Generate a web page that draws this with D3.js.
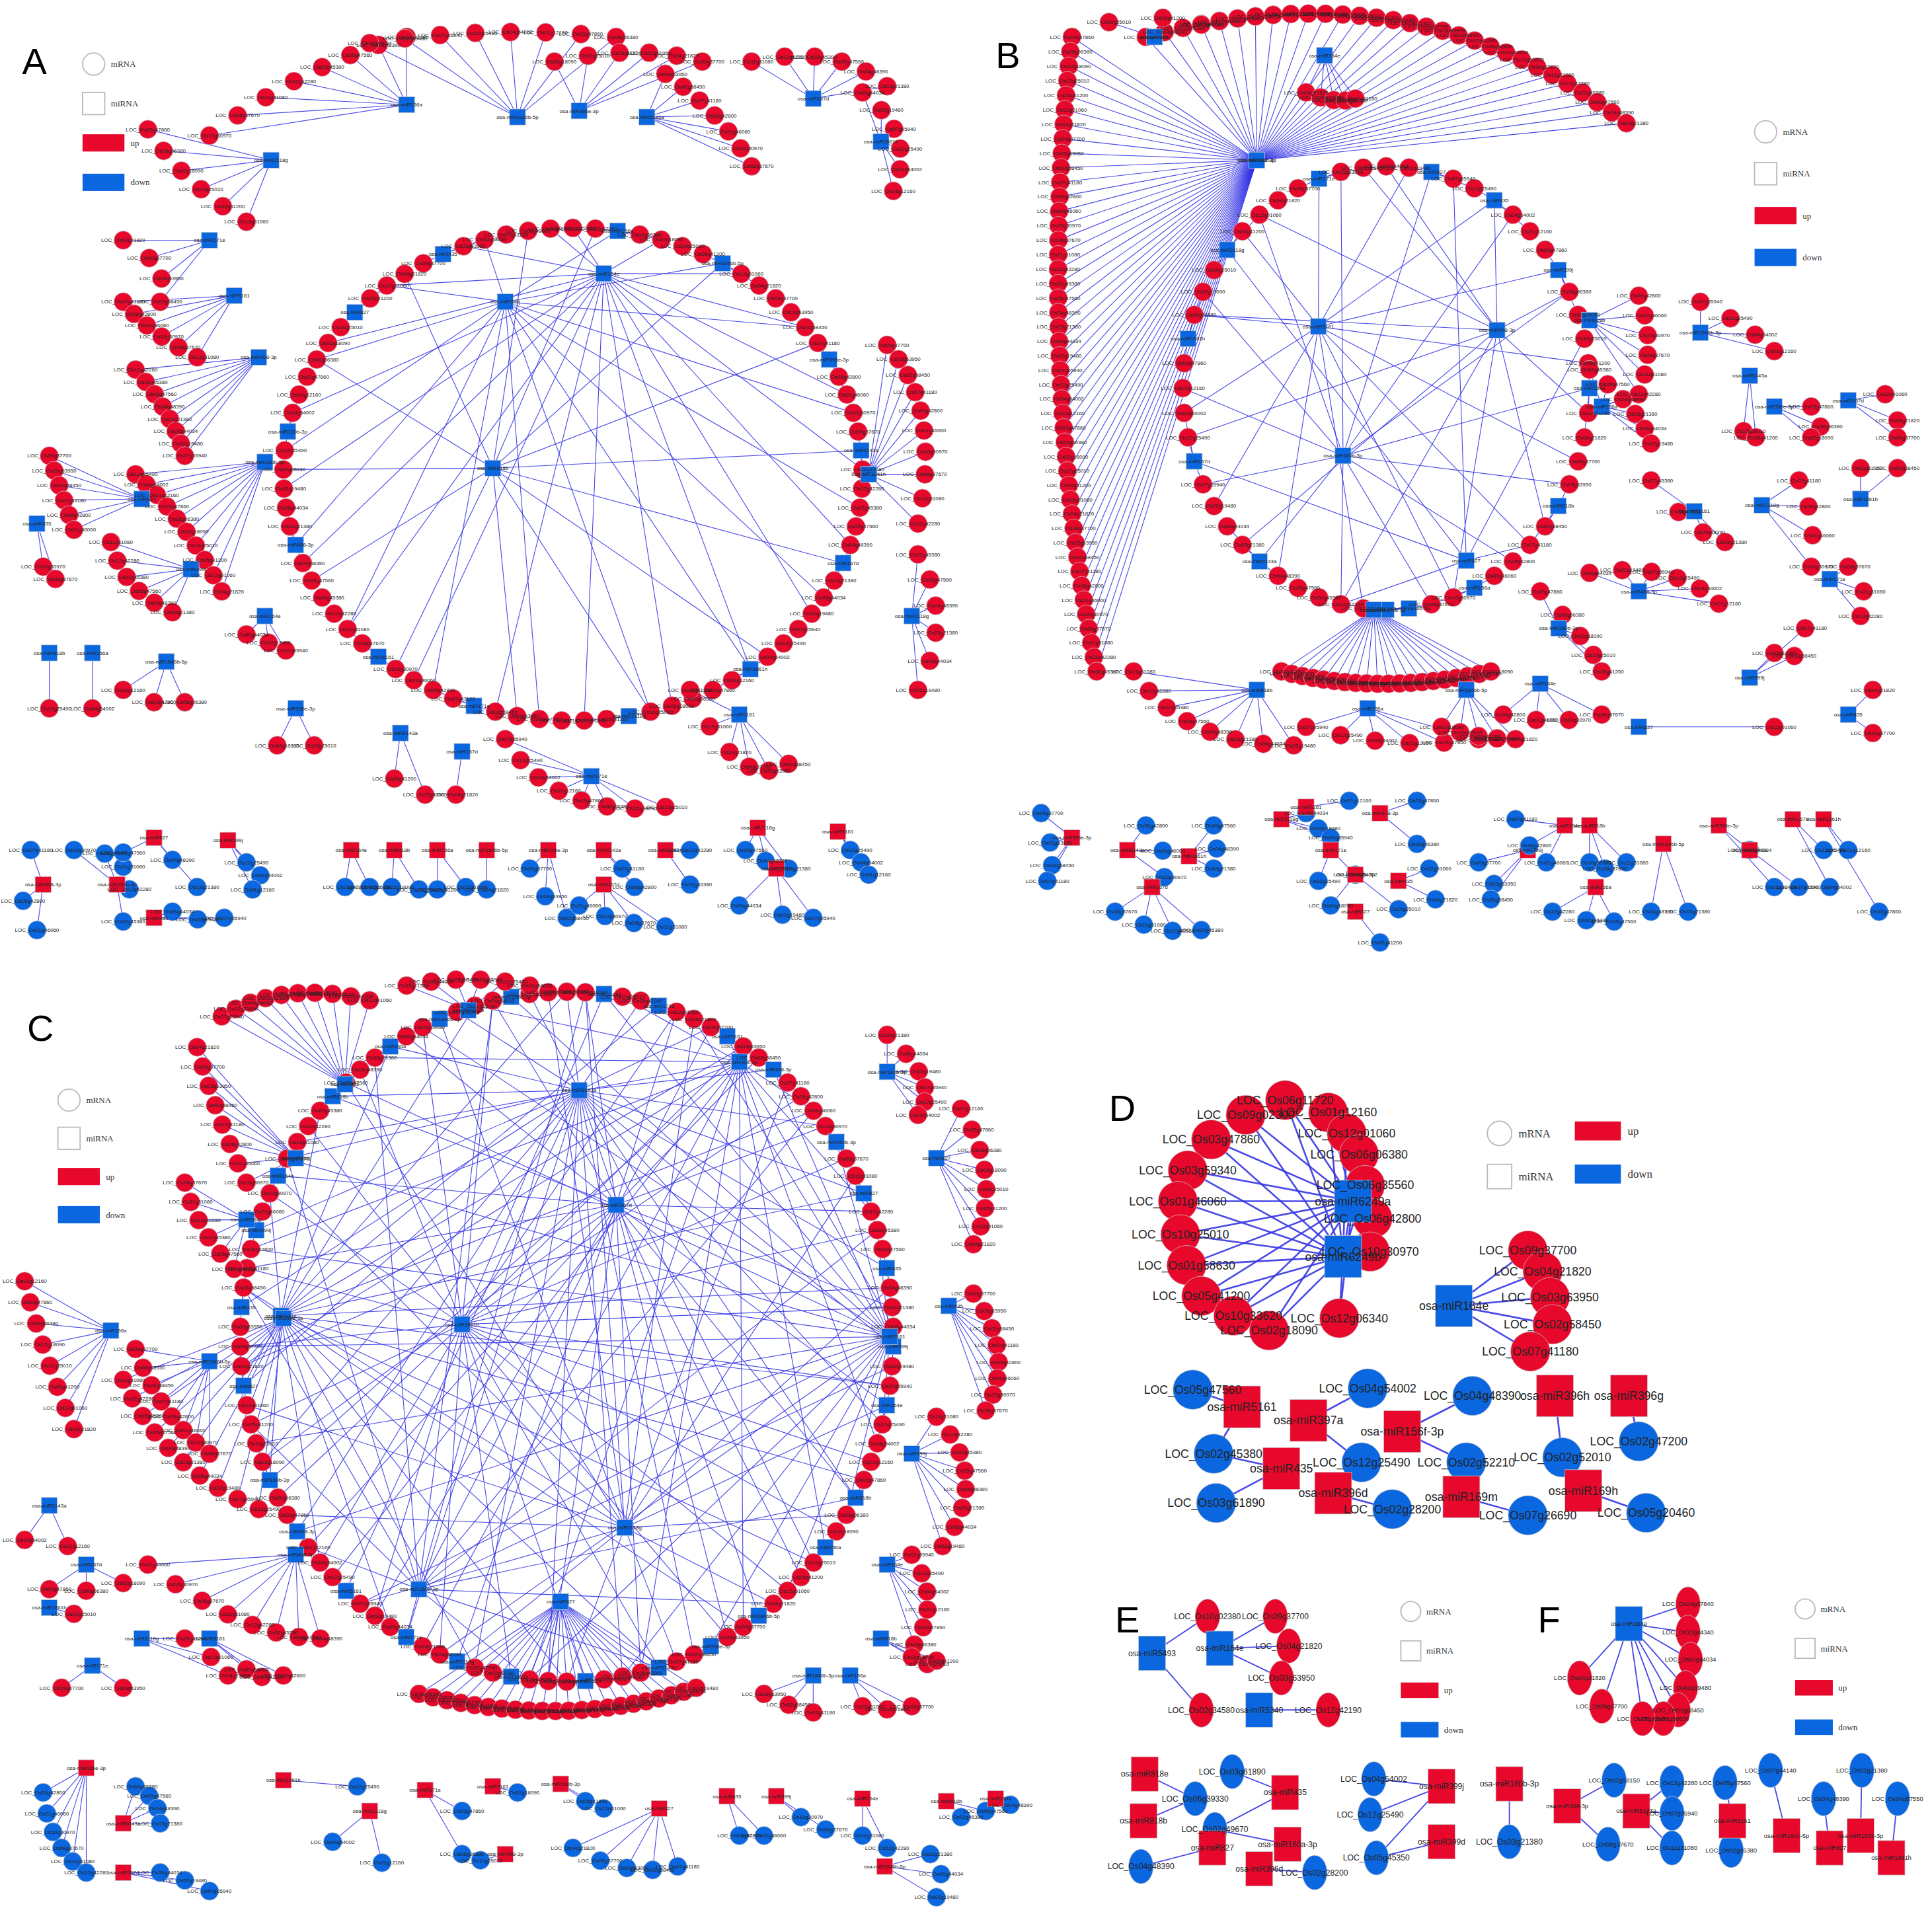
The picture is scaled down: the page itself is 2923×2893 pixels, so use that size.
<!DOCTYPE html>
<html><head><meta charset="utf-8">
<script src="https://cdn.jsdelivr.net/npm/d3@7"></script>
<style>body{margin:0;background:#fff}svg{display:block}</style>
</head><body>
<script>
// ---------- data ----------
const locIds = ["LOC_Os01g12160","LOC_Os03g47860","LOC_Os06g06380","LOC_Os02g18090","LOC_Os10g25010","LOC_Os05g41200",
 "LOC_Os12g01060","LOC_Os04g21820","LOC_Os09g37700","LOC_Os03g63950","LOC_Os02g58450","LOC_Os07g41180","LOC_Os06g42800",
 "LOC_Os01g46060","LOC_Os10g30970","LOC_Os08g37670","LOC_Os11g31080","LOC_Os12g42280","LOC_Os02g45380","LOC_Os05g47560",
 "LOC_Os04g48390","LOC_Os03g21380","LOC_Os06g44034","LOC_Os02g19480","LOC_Os07g05940","LOC_Os12g25490","LOC_Os04g54002"];
const mirIds = ["osa-miR156a","osa-miR1846b-5p","osa-miR396e-3p","osa-miR5143a","osa-miR167d","osa-miR1861h","osa-miR2118g",
 "osa-miR171e","osa-miR5161","osa-miR408-3p","osa-miR160b-3p","osa-miR827","osa-miR435","osa-miR399j","osa-miR164e","osa-miR818b"];

// Panel D
const dHubs = ["osa-miR6249a","osa-miR6249b"];
const dRing = ["LOC_Os06g11720","LOC_Os01g12160","LOC_Os09g02300","LOC_Os12g01060","LOC_Os03g47860","LOC_Os06g06380","LOC_Os03g59340",
 "LOC_Os06g35560","LOC_Os01g46060","LOC_Os06g42800","LOC_Os10g25010","LOC_Os10g30970","LOC_Os01g58630","LOC_Os05g41200",
 "LOC_Os10g33620","LOC_Os02g18090","LOC_Os12g06340"];
const dRingPos = [[1043,893],[1078,903],[1011,905],[1093,920],[983,925],[1103,937],[964,950],[1108,962],[956,975],[1114,989],
 [958,1002],[1112,1016],[963,1027],[975,1052],[1001,1068],[1030,1080],[1087,1070]];
const d164 = {hub:"osa-miR164e", targets:["LOC_Os09g37700","LOC_Os04g21820","LOC_Os03g63950","LOC_Os02g58450","LOC_Os07g41180"]};
const dPairs = [["osa-miR5161",["LOC_Os05g47560","LOC_Os02g45380"]],["osa-miR397a",["LOC_Os04g54002","LOC_Os12g25490"]],
 ["osa-miR156f-3p",["LOC_Os04g48390","LOC_Os02g52210"]],["osa-miR396h",["LOC_Os02g52010"]],["osa-miR396g",["LOC_Os02g47200"]],
 ["osa-miR435",["LOC_Os02g45380b","LOC_Os03g61890"]],["osa-miR396d",["LOC_Os02g28200"]],["osa-miR169m",["LOC_Os07g26690"]],["osa-miR169h",["LOC_Os05g20460"]]];
// Panel E
const eUp = [["osa-miR5493",["LOC_Os10g02380","LOC_Os02g34580"]],["osa-miR164e",["LOC_Os09g37700","LOC_Os04g21820","LOC_Os03g63950"]],["osa-miR5340",["LOC_Os12g42190"]]];
const eDown = [["osa-miR818e",["LOC_Os06g39330"]],["osa-miR818b",["LOC_Os06g39330"]],["osa-miR435",["LOC_Os03g61890","LOC_Os02g49670"]],
 ["osa-miR160a-3p",["LOC_Os02g49670"]],["osa-miR827",["LOC_Os04g48390"]],["osa-miR396d",["LOC_Os02g28200"]],
 ["osa-miR399j",["LOC_Os04g54002","LOC_Os12g25490","LOC_Os05g45350"]],["osa-miR399d",["LOC_Os05g45350"]],["osa-miR160b-3p",["LOC_Os03g21380"]]];
// Panel F
const fUp = {hub:"osa-miR164e", targets:["LOC_Os04g37840","LOC_Os12g44340","LOC_Os06g44034","LOC_Os02g19480","LOC_Os02g58450","LOC_Os03g58600","LOC_Os07g41180","LOC_Os09g37700","LOC_Os04g21820"]};
const fDown = [["osa-miR408-3p",["LOC_Os02g58150","LOC_Os08g37670"]],["osa-miR5143a",["LOC_Os12g42280","LOC_Os07g05940","LOC_Os11g31080"]],
 ["osa-miR5161",["LOC_Os05g47560","LOC_Os02g45380"]],["osa-miR164c-5p",["LOC_Os07g44140"]],["osa-miR827",["LOC_Os04g48390"]],
 ["osa-miR160b-3p",["LOC_Os03g21380"]],["osa-miR1861h",["LOC_Os04g57550"]]];
const legendLabels = ["mRNA","miRNA","up","down"];

// ---------- layout (displayed units) ----------
const RED="#e8082c", BLUE="#0b67e0", EDGE="#3535e6";
const W=2923,H=2893;
const sx=d3.scaleLinear().domain([0,1568]).range([0,W]);
const sy=d3.scaleLinear().domain([0,1552]).range([0,H]);
const svg=d3.select("body").append("svg").attr("width",W).attr("height",H);
const root=svg.append("g").attr("transform",`scale(${sx(1)},${sy(1)})`);
const gE=root.append("g"), gN=root.append("g"), gT=root.append("g");

function q(p0,pc,p1,t){const u=1-t;return [u*u*p0[0]+2*u*t*pc[0]+t*t*p1[0],u*u*p0[1]+2*u*t*pc[1]+t*t*p1[1]];}
let lc=0,mc=0;
function node(x,y,shape,color,label,sz,fs){
  if(shape==="c") gN.append("ellipse").attr("cx",x).attr("cy",y).attr("rx",sz.rx).attr("ry",sz.ry).attr("fill",color).attr("stroke","#c8c8c8").attr("stroke-width",0.4);
  else gN.append("rect").attr("x",x-sz.w/2).attr("y",y-sz.h/2).attr("width",sz.w).attr("height",sz.h).attr("fill",color).attr("stroke","#c8c8c8").attr("stroke-width",0.4);
  gT.append("text").attr("x",x).attr("y",y+fs*0.35).attr("text-anchor","middle").attr("font-family","Liberation Sans, Arial").attr("font-size",fs).attr("fill","#222").text(label);
  return [x,y];
}
function edge(a,b,w){gE.append("line").attr("x1",a[0]).attr("y1",a[1]).attr("x2",b[0]).attr("y2",b[1]).attr("stroke",EDGE).attr("stroke-width",w||0.6).attr("stroke-opacity",0.9);}
const SM={c:{rx:7.5,ry:7.5},s:{w:13,h:13}};
const nextLoc=()=>locIds[(lc++)%locIds.length], nextMir=()=>mirIds[(mc++)%mirIds.length];
function fan(spec,hubColor,tColor,hubShape,tShape){
  const [hx,hy,n,x0,y0,xc,yc,x1,y1]=spec;
  const hubLabel = hubShape==="s"?nextMir():nextLoc();
  const ts=[];
  for(let i=0;i<n;i++){const t=n===1?0:i/(n-1);const p=q([x0,y0],[xc,yc],[x1,y1],t);
    ts.push(node(p[0],p[1],tShape,tColor,tShape==="c"?nextLoc():nextMir(),SM[tShape],4.3));}
  const h=node(hx,hy,hubShape,hubColor,hubLabel,SM[hubShape],4.3);
  ts.forEach(t=>edge(h,t));
  return h;
}
function ring(cfg){
  const {cx,cy,rx,ry,types}=cfg;const n=types.length;const pts=[];
  for(let i=0;i<n;i++){const a=-Math.PI/2+i/n*2*Math.PI;pts.push([cx+rx*Math.cos(a),cy+ry*Math.sin(a),types[i]]);}
  pts.forEach((p,i)=>{if(p[2]==="s"){edge(p,pts[(i+1)%n]);edge(p,pts[(i+n-1)%n]);edge(p,pts[(i+2)%n]);}});
  (cfg.inner||[]).forEach(h=>{for(let k=h.start;k<n;k+=h.step) edge([h.x,h.y],pts[k]);});
  pts.forEach(p=>node(p[0],p[1],p[2],p[2]==="s"?BLUE:RED,p[2]==="s"?nextMir():nextLoc(),SM[p[2]],4.3));
  (cfg.inner||[]).forEach(h=>node(h.x,h.y,"s",BLUE,nextMir(),SM.s,4.3));
}
function letter(t,x,y){root.append("text").attr("x",x).attr("y",y).attr("font-family","Liberation Sans, Arial").attr("font-size",30).attr("fill","#000").text(t);}
// legend: pos = [[x,y] for circle, square, up, down]
function legend(pos,fs,sc){
  sc=sc||1;
  root.append("circle").attr("cx",pos[0][0]).attr("cy",pos[0][1]).attr("r",9*sc).attr("fill","#fff").attr("stroke","#bbb").attr("stroke-width",1);
  root.append("rect").attr("x",pos[1][0]-9*sc).attr("y",pos[1][1]-9*sc).attr("width",18*sc).attr("height",18*sc).attr("fill","#fff").attr("stroke","#bbb").attr("stroke-width",1);
  root.append("rect").attr("x",pos[2][0]-9*sc).attr("y",pos[2][1]-7*sc).attr("width",34*sc).attr("height",14*sc).attr("fill",RED);
  root.append("rect").attr("x",pos[3][0]-9*sc).attr("y",pos[3][1]-7*sc).attr("width",34*sc).attr("height",14*sc).attr("fill",BLUE);
  const dx=[14*sc,14*sc,30*sc,30*sc];
  legendLabels.forEach((l,i)=>root.append("text").attr("x",pos[i][0]+dx[i]).attr("y",pos[i][1]+fs*0.35).attr("font-family","Liberation Serif, Times New Roman").attr("font-size",fs).attr("fill","#333").text(l));
}
const vleg=(x,y,g)=>[[x,y],[x,y+g],[x,y+2*g],[x,y+3*g]];
const up=(s)=>fan(s,BLUE,RED,"s","c");
const dn=(s)=>fan(s,RED,BLUE,"s","c");

// ---------- Panel A ----------
letter("A",18,60); legend(vleg(76,52,32),7);
ring({cx:465,cy:385,rx:235,ry:200,
 types:"ccsccccsccccccsccccscccccsccccccscccccsccccccsccccsccccccscccccsccccccsccccsccccc",
 inner:[{x:410,y:245,start:2,step:5},{x:490,y:222,start:0,step:4},{x:400,y:380,start:1,step:6}]});
[[330,85,8,170,110,250,50,330,30],[420,95,8,300,35,400,20,500,30],[470,90,6,450,50,520,35,570,50],[525,95,7,540,60,585,90,610,135],
 [660,80,6,610,50,680,35,720,70],[715,115,6,700,75,745,110,725,155],[220,130,6,120,105,150,150,200,180],[170,195,4,100,195,140,215,130,245],
 [190,240,6,100,245,120,270,160,290],[210,290,8,110,300,140,335,150,370],[215,375,10,110,385,150,420,180,480],[115,405,6,40,370,50,400,60,430],
 [30,425,2,35,460,40,465,45,470],[155,462,6,90,440,100,480,140,497],[215,500,3,200,515,220,522,232,528],[40,530,1,40,575,40,575,40,575],
 [75,530,1,75,575,75,575,75,575],[135,537,3,100,560,125,575,150,570],[240,575,2,225,605,240,615,255,605],[325,595,2,320,632,335,640,345,645],
 [375,610,1,370,645,370,645,370,645],[705,385,10,720,280,765,330,745,425],[740,500,6,745,450,775,500,745,560],[480,630,8,410,600,450,665,540,655],
 [600,580,6,560,560,600,645,640,620]].forEach(up);
[[35,718,3,25,690,10,740,30,755],[95,718,5,60,690,120,688,100,748],[125,680,3,100,692,150,690,160,720],[125,745,3,140,740,160,750,182,745],
 [185,682,3,200,700,220,710,205,722],[285,690,2,280,720,290,725,300,720],[320,690,2,318,720,330,725,340,722],[355,690,2,355,722,365,725,378,720],
 [395,690,1,395,722,395,722,395,722],[445,690,3,430,705,440,730,460,745],[490,690,2,505,705,510,712,515,720],[490,718,4,470,735,500,750,540,752],
 [540,690,2,560,690,565,705,560,718],[615,672,3,605,690,620,700,640,705],[630,705,3,600,735,640,745,660,745],[680,675,3,690,690,700,700,705,710]].forEach(dn);

// ---------- Panel B ----------
letter("B",808,55); legend(vleg(1433,107,34),7);
up([1020,130,45,870,30,840,290,890,545]);
up([1020,130,30,930,30,1150,-30,1320,100]);
ring({cx:1125,cy:315,rx:165,ry:180,
 types:"ccsccscccsccccsccccsccccsccsscccccsccccsccccscccsccccscc",
 inner:[{x:1070,y:265,start:1,step:4},{x:1215,y:268,start:0,step:5},{x:1090,y:370,start:2,step:4},{x:1190,y:455,start:3,step:9}]});
up([1115,495,20,1040,545,1120,565,1210,545]);
[[937,30,3,900,18,950,10,975,20],[1075,45,5,1060,75,1085,85,1100,80],[1290,260,6,1330,240,1345,280,1330,320],[1300,330,6,1290,300,1330,330,1340,360],
 [1380,270,4,1380,245,1420,265,1440,285],[1440,330,3,1470,330,1485,350,1470,355],[1420,305,2,1415,350,1420,355,1425,355],[1500,325,3,1530,320,1545,345,1540,355],
 [1510,405,2,1510,380,1530,390,1540,380],[1430,410,4,1460,390,1475,420,1470,460],[1485,470,3,1500,460,1520,480,1510,500],[1375,415,4,1340,390,1375,435,1400,440],
 [1330,480,6,1290,465,1360,455,1395,490],[1265,510,5,1250,480,1290,520,1300,545],[1330,590,1,1440,590,1440,590,1440,590],[1500,580,2,1520,560,1525,585,1520,595],
 [1420,550,3,1440,530,1460,545,1465,510],[1250,555,4,1220,580,1260,590,1300,580],[1020,560,8,920,545,960,605,1050,605],[1110,575,6,1060,590,1130,610,1200,600],
 [1190,560,5,1170,590,1200,600,1230,600]].forEach(up);
[[870,680,4,845,660,860,700,850,715],[915,690,3,930,670,950,690,945,712],[935,720,4,905,740,940,760,975,755],[965,695,3,985,670,990,690,985,705],
 [1040,665,3,1060,660,1070,675,1080,680],[1080,690,2,1070,715,1085,720,1100,710],[1060,655,1,1095,650,1095,650,1095,650],[1120,660,2,1150,650,1160,670,1150,685],
 [1100,710,2,1080,735,1110,742,1135,738],[1100,740,1,1120,765,1120,765,1120,765],[1135,715,2,1160,705,1170,718,1165,730],[1240,690,3,1200,700,1220,720,1210,730],
 [1270,670,3,1230,665,1240,690,1255,700],[1290,670,3,1290,700,1300,710,1320,700],[1295,720,3,1260,740,1290,750,1310,748],[1350,685,2,1340,740,1355,745,1370,740],
 [1395,670,2,1420,690,1430,710,1440,720],[1420,690,1,1460,720,1460,720,1460,720],[1455,665,2,1480,690,1490,705,1485,720],[1480,665,2,1500,690,1510,710,1525,740]].forEach(dn);

// ---------- Panel C ----------
letter("C",22,845); legend(vleg(56,893,31),7);
ring({cx:460,cy:1085,rx:265,ry:280,
 types:"ccsccscccsccsccccsccscccscccsccsccccsccsccccsccsccscccscccsccsccscccscccsccsccccscccscccsccsccccscccsccscccscc",
 inner:[{x:470,y:885,start:0,step:4},{x:500,y:978,start:1,step:5},{x:375,y:1075,start:2,step:4},{x:507,y:1240,start:1,step:6},
        {x:228,y:1068,start:0,step:5},{x:722,y:1085,start:2,step:5},{x:600,y:862,start:3,step:6},{x:340,y:1290,start:1,step:7}]});
up([455,1300,22,340,1375,460,1405,565,1370]);
[[280,880,10,180,825,230,795,300,812],[240,940,8,160,850,175,905,200,960],[200,990,6,150,960,160,1000,190,1030],[380,820,6,330,800,380,790,430,800],
 [90,1080,8,20,1040,35,1100,60,1160],[170,1105,8,110,1095,130,1150,170,1180],[230,1070,10,100,1120,130,1190,210,1225],[40,1222,2,20,1250,40,1255,55,1255],
 [70,1270,3,40,1290,70,1295,100,1285],[40,1305,1,60,1310,60,1310,60,1310],[115,1330,3,150,1330,175,1345,185,1360],[75,1352,2,50,1370,80,1375,100,1370],
 [170,1330,3,200,1355,210,1365,230,1360],[240,1262,8,120,1270,200,1330,260,1330],[720,870,6,720,840,765,880,745,905],[760,940,8,780,900,815,960,790,1010],
 [770,1060,8,790,1050,825,1100,800,1145],[740,1180,8,760,1150,805,1200,765,1255],[720,1270,6,740,1262,765,1300,742,1335],[715,1330,3,740,1345,755,1355,760,1348],
 [690,1360,3,700,1385,720,1390,740,1385],[660,1360,3,620,1375,640,1385,660,1390]].forEach(up);
[[70,1435,6,35,1455,40,1500,70,1520],[100,1480,4,110,1450,130,1460,130,1480],[100,1520,3,130,1520,150,1525,170,1535],[230,1445,1,290,1450,290,1450,290,1450],
 [300,1470,2,270,1495,300,1500,310,1512],[345,1453,2,375,1470,380,1480,375,1505],[400,1450,1,420,1455,420,1455,420,1455],[410,1505,1,390,1510,390,1510,390,1510],
 [455,1448,2,475,1462,480,1465,490,1468],[535,1468,5,465,1500,510,1525,550,1515],[590,1458,2,600,1490,610,1495,620,1490],[630,1458,2,650,1475,660,1480,670,1485],
 [700,1460,2,700,1490,710,1495,720,1500],[768,1462,2,780,1475,790,1478,800,1470],[808,1460,1,820,1465,820,1465,820,1465],[718,1515,3,755,1505,770,1520,760,1540]].forEach(dn);

// ---------- Panel D ----------
letter("D",900,910); legend([[1217,920],[1217,955],[1288,918],[1288,953]],9,1.1);
const bigC={rx:16,ry:16}, bigS={w:30,h:34};
const h1=[1098,975], h2=[1090,1020];
dRingPos.forEach(p=>{edge(h1,p,1.4);edge(h2,p,1.4);});
dRing.forEach((l,i)=>node(dRingPos[i][0],dRingPos[i][1],"c",RED,l,bigC,9.5));
node(h1[0],h1[1],"s",BLUE,dHubs[0],bigS,9.5); node(h2[0],h2[1],"s",BLUE,dHubs[1],bigS,9.5);
const d164pos=[[1240,1015],[1252,1032],[1258,1053],[1260,1075],[1242,1097]], d164h=[1180,1060];
d164pos.forEach(p=>edge(d164h,p,1.4));
d164.targets.forEach((l,i)=>node(d164pos[i][0],d164pos[i][1],"c",RED,l,bigC,9.5));
node(d164h[0],d164h[1],"s",BLUE,d164.hub,bigS,9.5);
const dHubPos=[[1008,1142],[1062,1153],[1138,1162],[1262,1133],[1322,1133],[1040,1192],[1082,1212],[1186,1215],[1285,1210]];
const dTPos=[[[968,1128],[985,1180]],[[1110,1127],[1105,1187]],[[1195,1133],[1190,1187]],[[1268,1183]],[[1330,1170]],[[985,1180],[987,1220]],[[1130,1225]],[[1240,1230]],[[1336,1228]]];
dPairs.forEach((p,i)=>dTPos[i].forEach(t=>edge(dHubPos[i],t,1.4)));
dPairs.forEach((p,i)=>{if(i!==5)p[1].forEach((l,j)=>node(dTPos[i][j][0],dTPos[i][j][1],"c",BLUE,l,bigC,9.5)); else node(dTPos[5][1][0],dTPos[5][1][1],"c",BLUE,p[1][1],bigC,9.5);});
dPairs.forEach((p,i)=>node(dHubPos[i][0],dHubPos[i][1],"s",RED,p[0],bigS,9.5));

// ---------- Panel E ----------
letter("E",905,1325); legend(vleg(1145,1308,32),7,0.9);
const eC={rx:10,ry:14}, eS={w:22,h:28};
const eHubPos=[[935,1342],[990,1338],[1022,1388]];
const eTPos=[[[980,1312],[975,1388]],[[1035,1312],[1046,1336],[1040,1362]],[[1078,1388]]];
eUp.forEach((p,i)=>eTPos[i].forEach(t=>edge(eHubPos[i],t,1)));
eUp.forEach((p,i)=>p[1].forEach((l,j)=>node(eTPos[i][j][0],eTPos[i][j][1],"c",RED,l,eC,6.5)));
eUp.forEach((p,i)=>node(eHubPos[i][0],eHubPos[i][1],"s",BLUE,p[0],eS,6.5));
const eDH=[[929,1440],[928,1478],[1043,1455],[1045,1497],[984,1500],[1022,1517],[1170,1450],[1170,1495],[1225,1448]];
const eDT=[[[970,1460]],[[970,1460]],[[1000,1438],[986,1485]],[[986,1485]],[[926,1515]],[[1067,1520]],[[1115,1444],[1112,1473],[1117,1508]],[[1117,1508]],[[1225,1495]]];
eDown.forEach((p,i)=>eDT[i].forEach(t=>edge(eDH[i],t,1)));
const eSeen={};
eDown.forEach((p,i)=>p[1].forEach((l,j)=>{if(eSeen[l])return;eSeen[l]=1;node(eDT[i][j][0],eDT[i][j][1],"c",BLUE,l,eC,6.5);}));
eDown.forEach((p,i)=>node(eDH[i][0],eDH[i][1],"s",RED,p[0],eS,6.5));

// ---------- Panel F ----------
letter("F",1248,1325); legend(vleg(1465,1306,32),7,0.9);
const fH=[1322,1318];
const fT=[[1370,1302],[1370,1325],[1372,1347],[1368,1370],[1362,1388],[1350,1395],[1333,1395],[1300,1385],[1282,1362]];
fT.forEach(t=>edge(fH,t,1));
fUp.targets.forEach((l,i)=>node(fT[i][0],fT[i][1],"c",RED,l,eC,5));
node(fH[0],fH[1],"s",BLUE,fUp.hub,eS,5);
const fDH=[[1272,1466],[1328,1470],[1406,1478],[1450,1490],[1485,1500],[1510,1490],[1535,1508]];
const fDT=[[[1310,1445],[1305,1497]],[[1357,1447],[1357,1472],[1357,1500]],[[1400,1447],[1405,1502]],[[1437,1437]],[[1480,1460]],[[1511,1437]],[[1540,1460]]];
fDown.forEach((p,i)=>fDT[i].forEach(t=>edge(fDH[i],t,1)));
fDown.forEach((p,i)=>p[1].forEach((l,j)=>node(fDT[i][j][0],fDT[i][j][1],"c",BLUE,l,eC,5)));
fDown.forEach((p,i)=>node(fDH[i][0],fDH[i][1],"s",RED,p[0],eS,5));
</script>
</body></html>
